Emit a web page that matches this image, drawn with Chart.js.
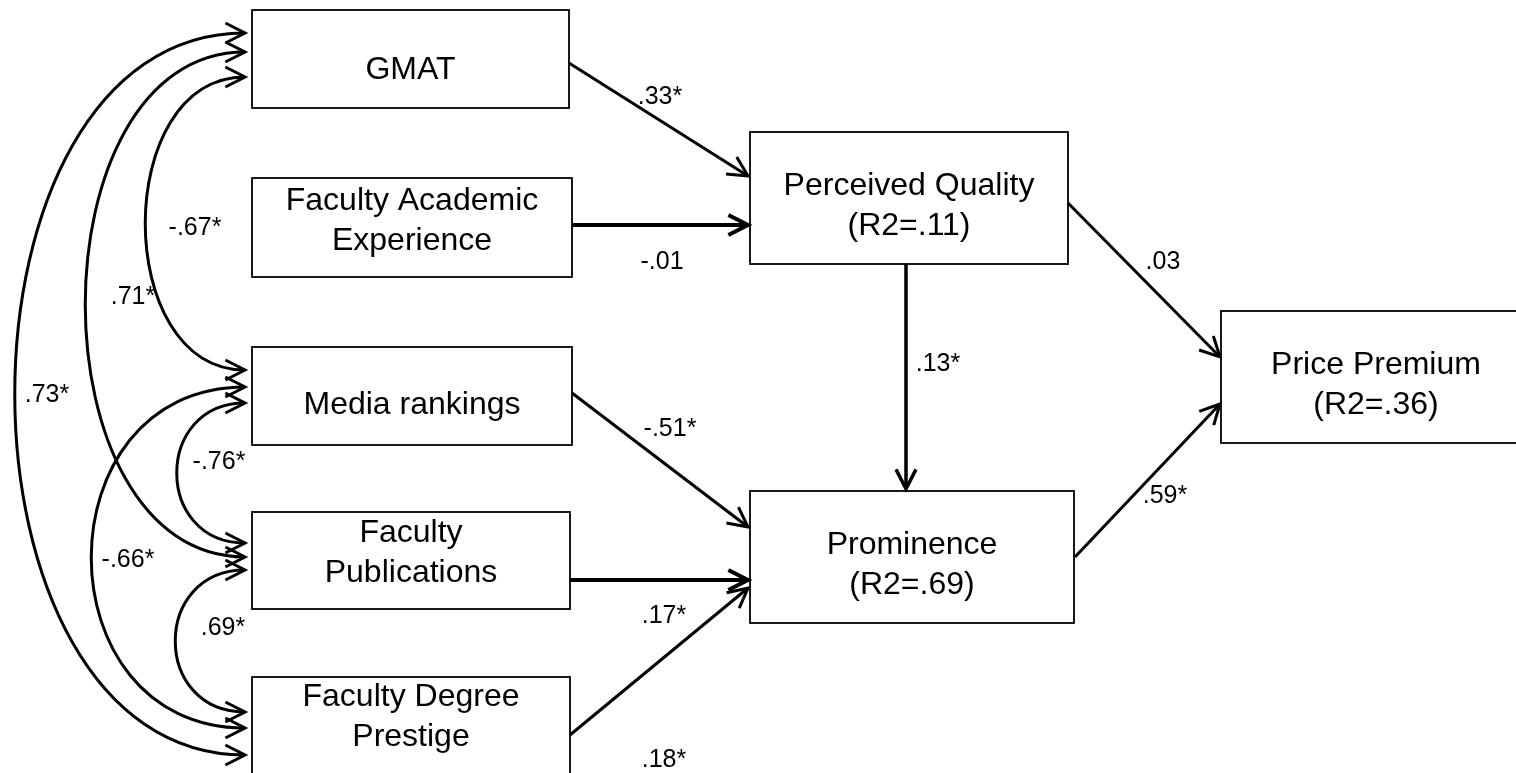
<!DOCTYPE html>
<html>
<head>
<meta charset="utf-8">
<script src="https://cdn.jsdelivr.net/npm/chart.js@4"></script>
<style>
  html, body { margin: 0; padding: 0; background: #fff; }
  #wrap { width: 1516px; height: 773px; }
</style>
</head>
<body>
<div id="wrap"><canvas id="pathChart"></canvas></div>
<script>
// model variables
const variables = ['GMAT', 'Faculty Academic\nExperience', 'Media rankings', 'Faculty\nPublications',
  'Faculty Degree\nPrestige', 'Perceived Quality\n(R2=.11)', 'Prominence\n(R2=.69)', 'Price Premium\n(R2=.36)'];

// directed paths (index into variables) and their coefficients
const pathFrom = [0, 1, 5, 5, 6, 2, 3, 4];
const pathTo = [5, 5, 6, 7, 7, 6, 6, 6];
const pathCoefs = ['.33*', '-.01', '.13*', '.03', '.59*', '-.51*', '.17*', '.18*'];

// correlations between the exogenous variables
const corrA = [0, 0, 0, 2, 2, 3];
const corrB = [4, 3, 2, 4, 3, 4];
const corrCoefs = ['.73*', '.71*', '-.67*', '-.66*', '-.76*', '.69*'];

// where things sit, in diagram units (x 0..1516, y 0..773 from the top)
const layout = {
  boxes: [[252, 10, 569, 108], [252, 178, 572, 277], [252, 347, 572, 445], [252, 512, 570, 609],
    [252, 677, 570, 800], [750, 132, 1068, 264], [750, 491, 1074, 623], [1221, 311, 1531, 443]],
  textY: [70, 221, 405, 553, 717, 206, 565, 385],
  paths: [[569, 63, 748, 176], [572, 225, 748, 225], [906, 264, 906, 489], [1068, 203, 1220, 357],
    [1075, 557, 1220, 404], [572, 393, 748, 527], [570, 580, 748, 580], [570, 735, 748, 588]],
  pathWidth: [3, 4, 3.5, 3, 3, 3, 4, 3],
  pathLabels: [[660, 97], [662, 262], [938, 364], [1163, 262], [1165, 496], [670, 429], [664, 616], [664, 760]],
  corrTipX: 245,
  corrY: [[33, 755], [52, 557], [77, 370], [387, 728], [403, 543], [570, 712]],
  corrCtrlX: [-62, 32, 112, 40, 154, 152],
  corrLabels: [[47, 395], [133, 297], [195, 228], [128, 560], [219, 462], [223, 628]]
};

const FONT = '"Liberation Sans", Arial, sans-serif';

function head(ctx, x, y, ang, len) {
  ctx.beginPath();
  ctx.moveTo(x - len * Math.cos(ang - 0.47), y - len * Math.sin(ang - 0.47));
  ctx.lineTo(x, y);
  ctx.lineTo(x - len * Math.cos(ang + 0.47), y - len * Math.sin(ang + 0.47));
  ctx.stroke();
}

const pathDiagram = {
  id: 'pathDiagram',
  afterDraw(chart) {
    const ctx = chart.ctx;
    const sx = v => chart.scales.x.getPixelForValue(v);
    const sy = v => chart.scales.y.getPixelForValue(v);
    ctx.save();
    ctx.strokeStyle = '#000';
    ctx.fillStyle = '#000';
    ctx.lineJoin = 'miter';
    ctx.lineCap = 'butt';

    // boxes + names
    ctx.textAlign = 'center';
    ctx.textBaseline = 'middle';
    ctx.font = '32px ' + FONT;
    variables.forEach((name, i) => {
      const b = layout.boxes[i];
      ctx.lineWidth = 1.8;
      ctx.strokeRect(sx(b[0]), sy(b[1]), sx(b[2]) - sx(b[0]), sy(b[3]) - sy(b[1]));
      const lines = name.split('\n');
      const cx = (b[0] + b[2]) / 2;
      const cy = layout.textY[i];
      lines.forEach((ln, k) => {
        ctx.fillText(ln, sx(cx), sy(cy + (k - (lines.length - 1) / 2) * 40));
      });
    });

    // straight paths
    ctx.font = '25px ' + FONT;
    pathFrom.forEach((f, i) => {
      const p = layout.paths[i];
      const x0 = sx(p[0]), y0 = sy(p[1]), x1 = sx(p[2]), y1 = sy(p[3]);
      ctx.lineWidth = layout.pathWidth[i];
      ctx.beginPath();
      ctx.moveTo(x0, y0);
      ctx.lineTo(x1, y1);
      ctx.stroke();
      head(ctx, x1, y1, Math.atan2(y1 - y0, x1 - x0), 22);
      const l = layout.pathLabels[i];
      ctx.fillText(pathCoefs[i], sx(l[0]), sy(l[1]));
    });

    // curved two-headed correlation arrows
    corrA.forEach((a, i) => {
      const [ya, yb] = layout.corrY[i];
      const tx = sx(layout.corrTipX), cx = sx(layout.corrCtrlX[i]);
      ctx.lineWidth = 3;
      ctx.beginPath();
      ctx.moveTo(tx, sy(ya));
      ctx.bezierCurveTo(cx, sy(ya), cx, sy(yb), tx, sy(yb));
      ctx.stroke();
      head(ctx, tx, sy(ya), 0, 22);
      head(ctx, tx, sy(yb), 0, 22);
      const l = layout.corrLabels[i];
      ctx.fillText(corrCoefs[i], sx(l[0]), sy(l[1]));
    });
    ctx.restore();
  }
};

new Chart(document.getElementById('pathChart'), {
  type: 'scatter',
  data: { datasets: [{ data: [] }] },
  options: {
    responsive: true,
    maintainAspectRatio: false,
    animation: false,
    layout: { padding: 0 },
    plugins: { legend: { display: false }, tooltip: { enabled: false } },
    scales: {
      x: { type: 'linear', min: 0, max: 1516, display: false },
      y: { type: 'linear', min: 0, max: 773, reverse: true, display: false }
    }
  },
  plugins: [pathDiagram]
});
</script>
</body>
</html>
